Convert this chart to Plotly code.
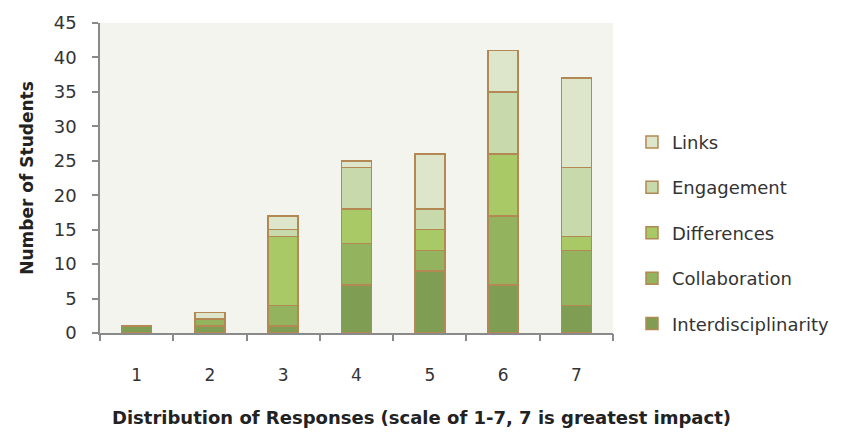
import plotly.graph_objects as go

# Survey responses on a 1-7 scale, counts per theme
scale = [1, 2, 3, 4, 5, 6, 7]
interdisciplinarity = [1, 1, 1, 7, 9, 7, 4]
collaboration = [0, 1, 3, 6, 3, 10, 8]
differences = [0, 0, 10, 5, 3, 9, 2]
engagement = [0, 0, 1, 6, 3, 9, 10]
links = [0, 1, 2, 1, 8, 6, 13]

series = [
    ("Interdisciplinarity", interdisciplinarity, "#7f9e53", 5),
    ("Collaboration", collaboration, "#94b35e", 4),
    ("Differences", differences, "#a9c866", 3),
    ("Engagement", engagement, "#c8d9ab", 2),
    ("Links", links, "#dde5cb", 1),
]

wide_font = "'DejaVu Sans', sans-serif"
edge = "rgb(180,136,82)"
axis_grey = "#8a8a8a"

fig = go.Figure()
for name, vals, color, rank in series:
    fig.add_trace(go.Bar(
        x=scale, y=vals, name=name, legendgroup=name, legendrank=rank,
        marker=dict(color=color, line=dict(color=edge, width=1.5)),
        width=0.41,
    ))

# invisible helper trace so the secondary axis (category boundary ticks) is drawn
fig.add_trace(go.Scatter(x=[0.5, 7.5], y=[0, 0], xaxis="x2", mode="markers",
                         marker=dict(opacity=0), showlegend=False, hoverinfo="skip"))

fig.update_layout(
    width=854, height=440,
    barmode="stack",
    paper_bgcolor="white",
    plot_bgcolor="#f3f4ee",
    margin=dict(l=100, r=241, t=16, b=107),
    font=dict(family=wide_font, size=16, color="#222"),
    showlegend=True,
    legend=dict(
        x=1.037, xanchor="left", y=0.675, yanchor="top",
        traceorder="grouped", tracegroupgap=19,
        font=dict(family=wide_font, size=18, color="#333"),
        itemwidth=30,
    ),
    xaxis=dict(
        range=[0.5, 7.5], tickvals=scale, ticktext=[str(v) for v in scale],
        ticks="", showgrid=False, zeroline=False,
        showline=True, linecolor=axis_grey, linewidth=1.5,
        ticklabelstandoff=26,
        tickfont=dict(family=wide_font, size=17, color="#333"),
    ),
    xaxis2=dict(
        overlaying="x", matches="x", range=[0.5, 7.5],
        tickvals=[0.5, 1.5, 2.5, 3.5, 4.5, 5.5, 6.5, 7.5],
        showticklabels=False, ticks="outside", ticklen=7, tickwidth=1.5,
        tickcolor=axis_grey, showgrid=False, zeroline=False, showline=False,
        side="bottom",
    ),
    yaxis=dict(
        range=[0, 45], dtick=5, ticks="outside", ticklen=6, tickwidth=1.5,
        tickcolor=axis_grey, showgrid=False, zeroline=False,
        showline=True, linecolor=axis_grey, linewidth=1.5,
        ticklabelstandoff=12,
        tickfont=dict(family=wide_font, size=18, color="#333"),
        title=dict(text="<b>Number of Students</b>",
                   font=dict(family=wide_font, size=17, color="#222"), standoff=16),
    ),
    annotations=[dict(
        text="<b>Distribution of Responses (scale of 1-7, 7 is greatest impact)</b>",
        xref="paper", yref="paper", x=0.626, y=-0.274,
        xanchor="center", yanchor="middle", showarrow=False,
        font=dict(family=wide_font, size=18, color="#222"),
    )],
)

fig.write_html("out.html")
